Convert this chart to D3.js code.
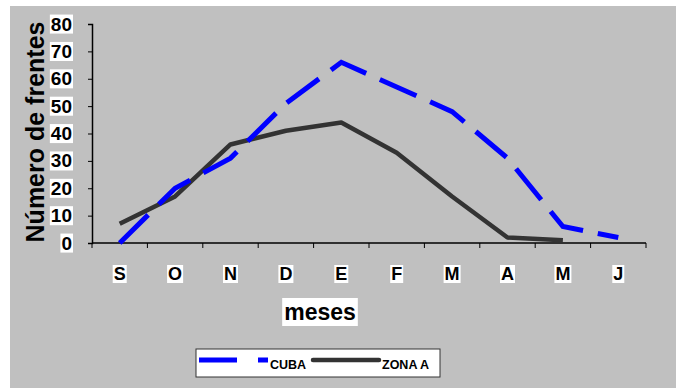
<!DOCTYPE html>
<html>
<head>
<meta charset="utf-8">
<script src="https://cdn.jsdelivr.net/npm/d3@7"></script>
<style>
  html, body { margin: 0; padding: 0; background: #fff; }
  svg { display: block; font-family: Arial, "Liberation Sans", sans-serif; font-weight: bold; }
</style>
</head>
<body>
<svg id="chart" width="677" height="389"></svg>
<script>
// Monthly counts of cold fronts, September through June
const months = ["S", "O", "N", "D", "E", "F", "M", "A", "M", "J"];
const cuba   = [0, 20, 31, 51, 66, 57, 48, 31, 6, 2];
const zonaA  = [7, 17, 36, 41, 44, 33, 17, 2, 1];
const yTicks = [0, 10, 20, 30, 40, 50, 60, 70, 80];

const svg = d3.select("#chart");

// chart area background
svg.append("rect")
  .attr("x", 10).attr("y", 6).attr("width", 666).attr("height", 382)
  .attr("fill", "#c0c0c0");

const plot = { left: 92, right: 646, top: 24, bottom: 243 };

const x = d3.scaleBand()
  .domain(d3.range(months.length))
  .range([plot.left, plot.right])
  .paddingInner(0).paddingOuter(0);

const y = d3.scaleLinear().domain([0, 80]).range([plot.bottom, plot.top]);

const cx = i => x(i) + x.bandwidth() / 2;

// y axis
const yAxis = svg.append("g")
  .attr("transform", `translate(${plot.left},0)`)
  .call(d3.axisLeft(y).tickValues(yTicks).tickSize(4).tickPadding(16));
yAxis.select(".domain").attr("stroke", "#000").attr("stroke-width", 1.5);
yAxis.selectAll(".tick line").attr("stroke", "#000");
yAxis.selectAll(".tick text")
  .attr("fill", "#000").attr("font-size", 19).attr("font-weight", "bold")
  .attr("font-family", "Arial, 'Liberation Sans', sans-serif");

// x axis with ticks at band boundaries
const xAxisG = svg.append("g").attr("transform", `translate(0,${plot.bottom})`);
xAxisG.append("line")
  .attr("x1", plot.left).attr("x2", plot.right)
  .attr("stroke", "#000").attr("stroke-width", 1.5);
xAxisG.selectAll("line.tk")
  .data(d3.range(months.length + 1))
  .join("line").attr("class", "tk")
  .attr("x1", i => plot.left + i * x.bandwidth())
  .attr("x2", i => plot.left + i * x.bandwidth())
  .attr("y1", 0).attr("y2", 5)
  .attr("stroke", "#000");
const xLabels = xAxisG.selectAll("text.lbl")
  .data(months)
  .join("text").attr("class", "lbl")
  .attr("x", (d, i) => cx(i))
  .attr("y", 37)
  .attr("text-anchor", "middle")
  .attr("font-size", 18)
  .text(d => d);

// white boxes behind tick labels
function boxBehind(sel, padX, padY) {
  sel.each(function () {
    const b = this.getBBox();
    d3.select(this.parentNode).insert("rect", () => this)
      .attr("x", b.x - padX).attr("y", b.y - padY)
      .attr("width", b.width + 2 * padX).attr("height", b.height + 2 * padY)
      .attr("fill", "#fff");
  });
}
boxBehind(yAxis.selectAll(".tick text"), 1, -1);
boxBehind(xLabels, 1, -1);

// axis titles
const yTitle = svg.append("text")
  .attr("transform", "translate(44,132) rotate(-90)")
  .attr("text-anchor", "middle")
  .attr("font-size", 25)
  .text("Número de frentes");
boxBehind(yTitle, 2, 0);

const xTitle = svg.append("text")
  .attr("x", 320).attr("y", 320)
  .attr("text-anchor", "middle")
  .attr("font-size", 23)
  .text("meses");
boxBehind(xTitle, 2, 1);

// series lines
const line = d3.line().x((d, i) => cx(i)).y(d => y(d));

svg.append("path")
  .datum(zonaA)
  .attr("d", line)
  .attr("fill", "none")
  .attr("stroke", "#333333")
  .attr("stroke-width", 4.5)
  .attr("stroke-linejoin", "round");

svg.append("path")
  .datum(cuba)
  .attr("d", line)
  .attr("fill", "none")
  .attr("stroke", "#0000ff")
  .attr("stroke-width", 5)
  .attr("stroke-dasharray", "40,15");

// legend
const lg = svg.append("g");
lg.append("rect")
  .attr("x", 196).attr("y", 349).attr("width", 244).attr("height", 28)
  .attr("fill", "#fff").attr("stroke", "#333").attr("stroke-width", 1);
lg.append("line")
  .attr("x1", 199).attr("x2", 268).attr("y1", 360).attr("y2", 360)
  .attr("stroke", "#0000ff").attr("stroke-width", 5)
  .attr("stroke-dasharray", "38,21");
lg.append("text").attr("x", 270).attr("y", 369).attr("font-size", 12.5).text("CUBA");
lg.append("line")
  .attr("x1", 313).attr("x2", 379).attr("y1", 360).attr("y2", 360)
  .attr("stroke", "#333333").attr("stroke-width", 4.5).attr("stroke-linecap", "round");
lg.append("text").attr("x", 382).attr("y", 369).attr("font-size", 12.5).text("ZONA A");
</script>
</body>
</html>
